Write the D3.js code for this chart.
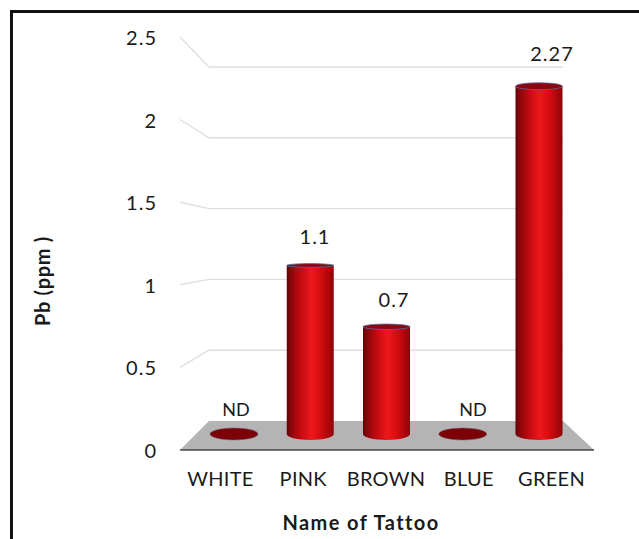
<!DOCTYPE html>
<html>
<head>
<meta charset="utf-8">
<script src="https://cdn.jsdelivr.net/npm/d3@7"></script>
<style>
  body { margin: 0; background: #fff; }
  text { font-family: Lato, "Open Sans", sans-serif; fill: #1a1a1a; }
</style>
</head>
<body>
<div id="chart"></div>
<script>
// values, null = not detected
var categories = ["WHITE", "PINK", "BROWN", "BLUE", "GREEN"];
var values = [null, 1.1, 0.7, null, 2.27];
var valueLabels = ["ND", "1.1", "0.7", "ND", "2.27"];
var yTicks = [0, 0.5, 1, 1.5, 2, 2.5];

var width = 639, height = 539;

var svg = d3.select("#chart").append("svg")
  .attr("width", width)
  .attr("height", height)
  .style("display", "block");

// frame, only top and left are visible
svg.append("path")
  .attr("d", "M11.5," + height + "V11.5H" + width)
  .attr("fill", "none")
  .attr("stroke", "#111")
  .attr("stroke-width", 3);

// fake 3D: one scale for the front plane, one for the back wall, one for the bars in between
var yFront = d3.scaleLinear().domain([0, 2.5]).range([450, 37]);
var yBack = d3.scaleLinear().domain([0, 2.5]).range([421, 67]);
var yBar = d3.scaleLinear().domain([0, 2.5]).range([434, 51]);
var yLabel = d3.scaleLinear().domain([0, 2.5]).range([410, 17.5]);

var xBar = d3.scalePoint().domain(categories).range([234, 539]);
var xAxisScale = d3.scalePoint().domain(categories).range([220, 551]);
var xLabel = d3.scalePoint().domain(categories).range([236, 552]);

var frontLeft = 180, frontRight = 594, backLeft = 209, backRight = 563;
var barRx = 23.5;

// top ellipse gets flatter near eye level
var eyeLevel = 1.3;
var topRy = d3.scaleLinear().domain([0, 1]).range([1.5, 3.5]).clamp(true);

var defs = svg.append("defs");
var grad = defs.append("linearGradient").attr("id", "cyl");
grad.selectAll("stop")
  .data([[0, "#5e0408"], [0.08, "#86060c"], [0.28, "#c00a10"], [0.52, "#ee181c"], [0.72, "#d40c10"], [0.92, "#a5060a"], [1, "#85060a"]])
  .enter().append("stop")
    .attr("offset", function(d) { return d[0]; })
    .attr("stop-color", function(d) { return d[1]; });

//Gridlines
svg.selectAll(".grid")
  .data(yTicks.filter(function(t) { return t > 0; }))
  .enter().append("path")
    .attr("class", "grid")
    .attr("fill", "none")
    .attr("stroke", "#dfdfdf")
    .attr("stroke-width", 1.4)
    .attr("d", function(t) {
      return d3.line()([[frontLeft, yFront(t)], [backLeft, yBack(t)], [backRight, yBack(t)]]);
    });

//Floor
svg.append("polygon")
  .attr("points", [[frontLeft, yFront(0)], [backLeft, yBack(0)], [backRight, yBack(0)], [frontRight, yFront(0)]].join(" "))
  .attr("fill", "#b4b4b4");
svg.append("line")
  .attr("x1", frontLeft).attr("x2", frontRight)
  .attr("y1", yFront(0)).attr("y2", yFront(0))
  .attr("stroke", "#4a4a4a")
  .attr("stroke-width", 1.6);

//Bars
var bars = svg.selectAll(".bar")
  .data(categories.map(function(c, i) { return {name: c, value: values[i]}; }))
  .enter().append("g")
    .attr("class", "bar")
    .attr("transform", function(d) { return "translate(" + xBar(d.name) + ",0)"; });

// ND: just a flat disc on the floor
bars.filter(function(d) { return d.value === null; })
  .append("ellipse")
    .attr("cy", yBar(0))
    .attr("rx", barRx + 0.5)
    .attr("ry", 6)
    .attr("fill", "#7c0208")
    .attr("stroke", "#6a5a7a")
    .attr("stroke-width", 0.5);

var solid = bars.filter(function(d) { return d.value !== null; });

solid.append("path")
  .attr("fill", "url(#cyl)")
  .attr("d", function(d) {
    var top = yBar(d.value), base = yBar(0);
    return "M" + (-barRx) + "," + top + "V" + base +
      "A" + barRx + ",6 0 0 0 " + barRx + "," + base +
      "V" + top + "Z";
  });

solid.append("ellipse")
  .attr("cy", function(d) { return yBar(d.value); })
  .attr("rx", barRx)
  .attr("ry", function(d) { return topRy(Math.abs(d.value - eyeLevel)); })
  .attr("fill", "#8c0610")
  .attr("stroke", "#5c6aa0")
  .attr("stroke-width", 0.8);

//Value labels
svg.selectAll(".vlabel")
  .data(categories)
  .enter().append("text")
    .attr("class", "vlabel")
    .attr("x", function(d) { return xLabel(d); })
    .attr("y", function(d, i) { return yLabel(values[i] === null ? 0 : values[i]); })
    .attr("dy", "0.35em")
    .attr("text-anchor", "middle")
    .style("font-size", function(d, i) { return values[i] === null ? "18px" : "20px"; })
    .style("letter-spacing", function(d, i) { return values[i] === null ? "0" : "1px"; })
    .text(function(d, i) { return valueLabels[i]; });

//Y Axis
var yAxis = svg.append("g")
  .attr("transform", "translate(157,1)")
  .call(d3.axisLeft(yFront).tickValues(yTicks).tickSize(0).tickPadding(0).tickFormat(d3.format("~g")));
yAxis.select(".domain").remove();
yAxis.selectAll("text")
  .style("font-size", "20px")
  .style("font-family", "Lato")
  .style("letter-spacing", "1px");

//X Axis
var xAxis = svg.append("g")
  .attr("transform", "translate(0,469)")
  .call(d3.axisBottom(xAxisScale).tickSize(0).tickPadding(3));
xAxis.select(".domain").remove();
xAxis.selectAll("text")
  .style("font-size", "20px")
  .style("font-family", "Lato")
  .style("letter-spacing", "0.3px");

//Axis titles
svg.append("text")
  .attr("x", 361)
  .attr("y", 523)
  .attr("dy", "0.35em")
  .attr("text-anchor", "middle")
  .style("font-size", "20px")
  .style("font-weight", "bold")
  .style("letter-spacing", "1.4px")
  .text("Name of Tattoo");

svg.append("text")
  .attr("transform", "translate(43,281)rotate(-90)")
  .attr("dy", "0.35em")
  .attr("text-anchor", "middle")
  .style("font-size", "20px")
  .style("font-weight", "bold")
  .style("letter-spacing", "0.7px")
  .text("Pb (ppm )");
</script>
</body>
</html>
